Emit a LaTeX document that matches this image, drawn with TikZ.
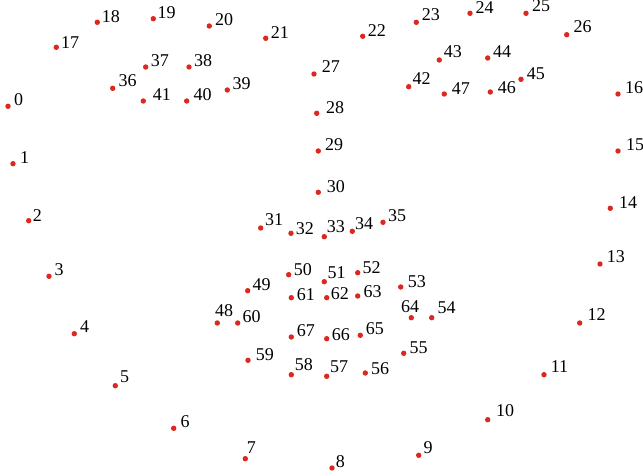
\documentclass[tikz,border=0pt]{standalone}
\usepackage{fontspec}
\setmainfont{Liberation Serif}
\usepackage{tikz}
\definecolor{dotred}{RGB}{220,40,30}

\begin{document}
\begin{tikzpicture}[x=1pt, y=-1pt,
    lmk/.style={circle, fill=dotred, inner sep=0pt, minimum size=5.4pt},
    num/.style={anchor=base west, inner sep=0pt, font=\fontsize{18}{20}\selectfont}]
    \useasboundingbox (0,0) rectangle (643,476);
    % Jaw line
    \foreach \i/\px/\py/\dx/\dy in {0/8/106.3/6/-1, 1/13/163.7/7/0, 2/28.7/220.7/4/0.6,
        3/49/276.3/5.3/-1.3, 4/74.3/333.7/5.7/-1.7, 5/115.3/385.7/4.7/-3,
        6/173.7/428.3/6.6/-1.3, 7/245.3/458.7/1.4/-5.4, 8/332/468/3.7/-1,
        9/418.7/455.3/4.6/-2, 10/487.7/419.7/8.3/-3.7, 11/544/374.7/6.7/-2,
        12/579.7/323/7.6/-3, 13/600/264/6.7/-2, 14/610.3/208.3/8.7/0,
        15/618/151/8/0, 16/618/94/7/-0.7}{
        \node[lmk] (p\i) at (\px,\py) {};
        \node[num] (t\i) at ({\px+\dx},{\py+(\dy)}) {\i};
    }
    % Eyebrows
    \foreach \i/\px/\py/\dx/\dy in {17/56.3/47.3/4.7/1, 18/97.3/22.3/4.4/0,
        19/153.3/18.7/4/0, 20/209.3/26/5.7/-0.7, 21/265.7/38.3/5/0,
        22/362.7/36.3/5/0, 23/416.3/22.3/5.4/-1.3, 24/470/13.3/5.3/0,
        25/526/13.3/6/-1.3, 26/566.7/34.7/6.6/-2.4}{
        \node[lmk] (p\i) at (\px,\py) {};
        \node[num] (t\i) at ({\px+\dx},{\py+(\dy)}) {\i};
    }
    % Nose
    \foreach \i/\px/\py/\dx/\dy in {27/314/74/7.7/-1.3, 28/316.7/113.3/9.3/0,
        29/318.3/151/6.7/0, 30/318.3/192.3/8.4/0, 31/260.7/228/4.3/-2.3,
        32/291/233.3/4.7/1, 33/324.3/236.7/2.4/-4.4, 34/352.3/231.3/2.7/-1.6,
        35/383/222.3/5/-1}{
        \node[lmk] (p\i) at (\px,\py) {};
        \node[num] (t\i) at ({\px+\dx},{\py+(\dy)}) {\i};
    }
    % Eyes
    \foreach \i/\px/\py/\dx/\dy in {36/112.7/88.3/5.7/-1.6, 37/145.7/67/5/-0.7,
        38/189/67/5/0, 39/227.3/90/5/-0.7, 40/186.7/101/6.6/-0.7,
        41/143.3/101/9.4/0, 42/408.7/86.7/3.6/-1.7, 43/439.3/60/4.4/-2.3,
        44/487.7/58/5.3/-0.7, 45/521/79.3/5.7/0, 46/490.3/92/7.4/2,
        47/444.3/94/7.4/0.7}{
        \node[lmk] (p\i) at (\px,\py) {};
        \node[num] (t\i) at ({\px+\dx},{\py+(\dy)}) {\i};
    }
    % Mouth
    \foreach \i/\px/\py/\dx/\dy in {48/217.3/323/-2.3/-6.3, 49/247.7/290.7/4.6/-0.7,
        50/288.7/274.7/5/0.3, 51/324.3/281.7/3/-3, 52/357.7/272.7/4.6/0.3,
        53/400.7/287/7/0.7, 54/431.7/317.7/5.6/-4.7, 55/403.7/353.3/5.6/0,
        56/365.3/373/5.7/1, 57/326.7/376.3/3.3/-3.6, 58/291.3/374.7/3.4/-4,
        59/248/360.3/7.7/0, 60/237.7/323/4.6/-1, 61/291.3/297.7/5.4/2.3,
        62/326.7/297.7/4/1.6, 63/357.7/296/5.6/1, 64/411.3/317.7/-10.3/-5,
        65/360.3/335.3/5.4/-0.6, 66/326.7/338.7/5/1.3, 67/291.3/337/5.4/-1}{
        \node[lmk] (p\i) at (\px,\py) {};
        \node[num] (t\i) at ({\px+\dx},{\py+(\dy)}) {\i};
    }
\end{tikzpicture}
\end{document}
